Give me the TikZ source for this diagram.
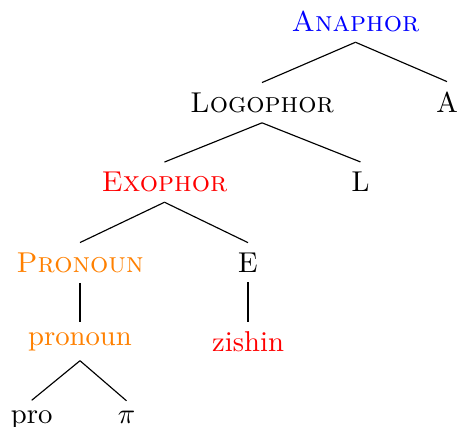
\documentclass[tikz,border=0pt]{standalone}

\tikzset{lab/.style={anchor=base}}

\begin{document}
\begin{tikzpicture}[x=0.3484pt, y=-0.3484pt]
\useasboundingbox (0, 0) rectangle (458, 427);

\node[lab, blue] (ana) at (355.5, 31.7) {\textsc{Anaphor}};
\node[lab] (logo) at (262, 112.3) {\textsc{Logophor}};
\node[lab] (a) at (447, 112.3) {A};
\node[lab, red] (exo) at (164.5, 191.7) {\textsc{Exophor}};
\node[lab] (l) at (360.5, 191.7) {L};
\node[lab, orange] (pron) at (80, 272.3) {\textsc{Pronoun}};
\node[lab] (e) at (248, 272.3) {E};
\node[lab, orange] (pronoun) at (80, 345) {pronoun};
\node[lab, red] (zishin) at (248, 351.7) {zishin};
\node[lab] (pro) at (31.7, 423.3) {pro};
\node[lab] (pi) at (126.5, 423.3) {$\pi$};

\draw (ana.south) -- (logo.north);
\draw (ana.south) -- (a.north);
\draw (logo.south) -- (exo.north);
\draw (logo.south) -- (l.north);
\draw (exo.south) -- (pron.north);
\draw (exo.south) -- (e.north);
\draw (pron.south) -- (pronoun.north);
\draw (e.south) -- (zishin.north);
\draw (pronoun.south) -- (pro.north);
\draw (pronoun.south) -- (pi.north);

\end{tikzpicture}
\end{document}
